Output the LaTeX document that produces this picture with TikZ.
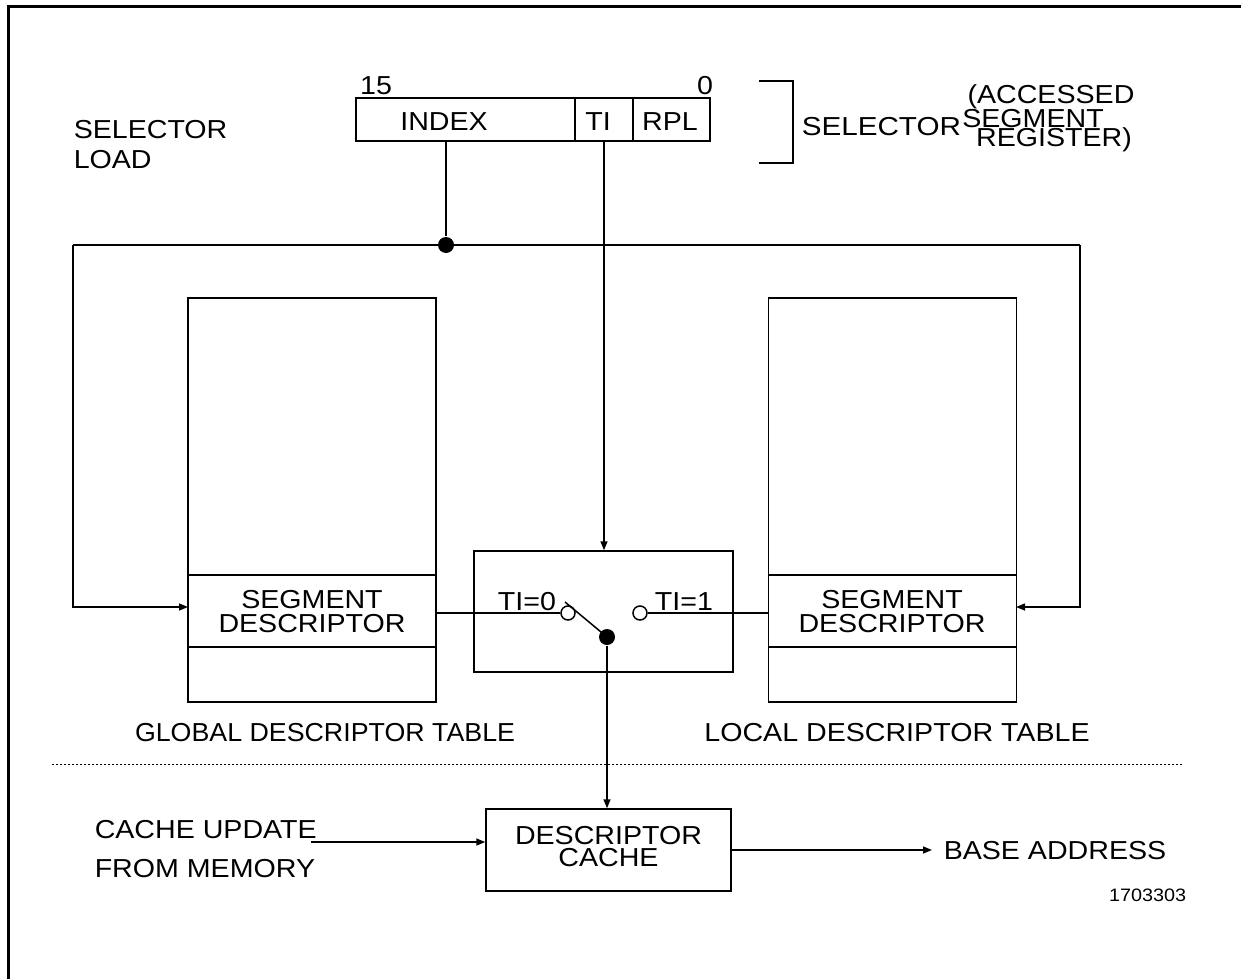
\documentclass[tikz,border=0pt]{standalone}
\usepackage{fontspec}
\setmainfont[FakeStretch=1.1]{Liberation Sans}
\newfontfamily\narrowfont[FakeStretch=1.03]{Liberation Sans}
\usetikzlibrary{arrows.meta}
\begin{document}
\begin{tikzpicture}[x=0.5pt,y=-0.5pt,
  every path/.style={line width=0.75pt},
  txt/.style={inner sep=0pt, font=\fontsize{13}{13}\selectfont},
  small/.style={inner sep=0pt, font=\fontsize{9}{9}\selectfont},
  two/.style={inner sep=0pt, align=center, font=\fontsize{13}{12}\selectfont},
  reg/.style={draw, inner sep=0pt, minimum height=21.5pt},
  tbl/.style={draw, inner sep=0pt, minimum width=124pt, minimum height=202pt},
  dot/.style={circle, fill=black, inner sep=0pt, minimum size=8pt},
  hole/.style={circle, draw, fill=white, inner sep=0pt, minimum size=7pt},
  tip/.style={-{Triangle[length=4.5pt,width=3.5pt]}}]
\useasboundingbox (0,0) rectangle (1241,979);
% frame
\draw[line width=1.5pt] (8,979) -- (8,7) -- (1241,7);

% selector register
\node[reg, minimum width=109.5pt] (idx) at (465.5,119.5) {};
\node[reg, minimum width=29pt] (ti) at (604,119.5) {};
\node[reg, minimum width=38.5pt] (rpl) at (671.5,119.5) {};
\node[txt] (tIndex) at (444,122) {INDEX};
\node[txt] (tTI) at (598,122) {TI};
\node[txt] (tRPL) at (670,122) {RPL};
\node[txt] (b15) at (376,86) {15};
\node[txt] (b0) at (705,86) {0};

% bracket
\coordinate (bt) at (759,81);
\coordinate (bb) at (759,163);
\coordinate (btr) at (793,81);
\coordinate (bbr) at (793,163);
\draw (bt) -- (btr) -- (bbr) -- (bb);
\node[txt, anchor=west, font=\fontsize{13}{13}\selectfont\addfontfeatures{FakeStretch=1.14}] (selt) at (801,127) {SELECTOR};
\node[txt] (acc1) at (1051,97) {(ACCESSED};
\node[txt] (acc2) at (1033,119) {SEGMENT};
\node[txt] (acc3) at (1054,140) {REGISTER)};

\node[txt, anchor=west] (sl1) at (73,130) {SELECTOR};
\node[txt, anchor=west] (sl2) at (73,160) {LOAD};

% tables
\node[tbl] (gdt) at (312,500) {};
\node[tbl] (ldt) at (892.5,500) {};
\draw (gdt.west |- 0,575) -- (gdt.east |- 0,575);
\draw (gdt.west |- 0,647) -- (gdt.east |- 0,647);
\draw (ldt.west |- 0,575) -- (ldt.east |- 0,575);
\draw (ldt.west |- 0,647) -- (ldt.east |- 0,647);
\node[two] (gsd) at (312,612) {SEGMENT\\DESCRIPTOR};
\node[two] (lsd) at (892,612) {SEGMENT\\DESCRIPTOR};
\node[txt, font=\fontsize{13}{13}\narrowfont] (gdtl) at (325,733) {GLOBAL DESCRIPTOR TABLE};
\node[txt] (ldtl) at (897,733) {LOCAL DESCRIPTOR TABLE};

% bus
\node[dot] (j) at (446,245) {};
\coordinate (bl) at (73,245);
\coordinate (br) at (1080,245);
\coordinate (gin) at (188,607);
\coordinate (lin) at (1016,607);
\draw (j |- idx.south) -- (j);
\draw (bl) -- (br);
\draw[tip] (bl) |- (gin);
\draw[tip] (br) |- (lin);

% switch
\node[draw, inner sep=0pt, minimum width=129.5pt, minimum height=60.5pt] (sw) at (603.5,611.5) {};
\draw[tip] (ti.south) -- (ti.south |- sw.north);
\node[hole] (c0) at (568,613) {};
\node[hole] (c1) at (640,613) {};
\node[txt] (ti0) at (527,602) {TI=0};
\node[txt] (ti1) at (684,602) {TI=1};
\draw (gdt.east |- c0) -- (c0.west);
\draw (c1.east) -- (ldt.west |- c1);
\node[dot] (sd) at (607,637) {};
\coordinate (arm) at (565,602);
\draw (arm) -- (sd.center);

% dotted separator
\coordinate (dl) at (52,764);
\coordinate (dr) at (1182,764);
\draw[line width=0.5pt, dash pattern=on 1pt off 1pt] (dl) -- (dr);

% cache
\node[draw, inner sep=0pt, minimum width=122.5pt, minimum height=41pt] (cache) at (608.5,850) {};
\node[inner sep=0pt, align=center, font=\fontsize{13}{11}\selectfont] (ct) at (608.5,847) {DESCRIPTOR\\CACHE};
\draw[tip] (sd) -- (sd |- cache.north);
\node[txt, anchor=west] (cu1) at (94,830) {CACHE UPDATE};
\node[txt, anchor=west] (cu2) at (94,869) {FROM MEMORY};
\coordinate (inA) at (311,842);
\draw[tip] (inA) -- (cache.west |- inA);
\node[txt, anchor=west] (base) at (943,851) {BASE ADDRESS};
\coordinate (outB) at (932,850);
\draw[tip] (cache.east |- outB) -- (outB);
\node[small, anchor=east] (num) at (1187,895) {1703303};
\end{tikzpicture}
\end{document}
